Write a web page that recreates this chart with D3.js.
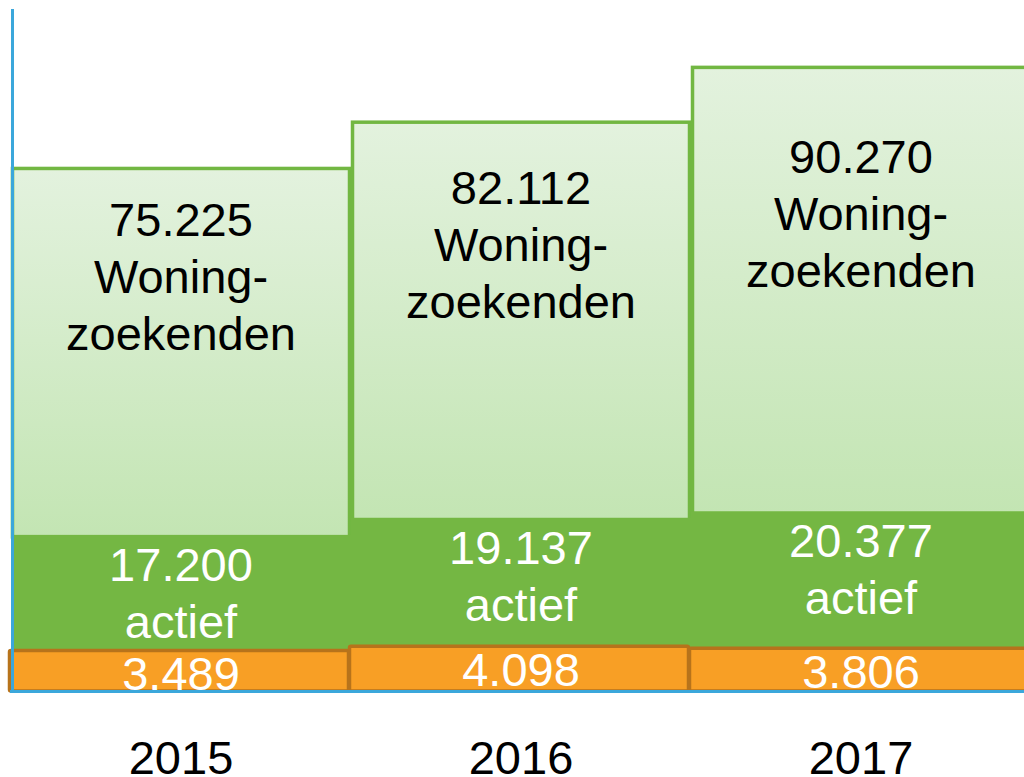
<!DOCTYPE html>
<html>
<head>
<meta charset="utf-8">
<script src="https://cdn.jsdelivr.net/npm/d3@7"></script>
<style>
    body { margin: 0; background: #fff; }
    svg { display: block; }
</style>
</head>
<body>
<div id="chart"></div>
<script>
// data
const years = ["2015", "2016", "2017"];
const seekers = [75225, 82112, 90270];   // woningzoekenden (total)
const active = [17200, 19137, 20377];    // actief
const housed = [3489, 4098, 3806];       // orange block

const width = 1024, height = 777;
const baseY = 690;

// number format with dutch thousands separator
const nl = d3.formatLocale({decimal: ",", thousands: ".", grouping: [3], currency: ["€", ""]});
const fmt = nl.format(",d");

const rows = years.map((y, i) => ({
    year: y,
    seekers: seekers[i],
    active: active[i],
    housed: housed[i],
    activeTop: housed[i] + active[i]
}));

const x = d3.scaleBand()
    .domain(years)
    .range([11, 1031])
    .padding(0);

// axis floor sits a little under zero, like the original slide
const y = d3.scaleLinear()
    .domain([-2400, 100000])
    .range([baseY, 2]);

const svg = d3.select("#chart").append("svg")
    .attr("width", width)
    .attr("height", height)
    .style("font-family", "'Liberation Sans', Arial, sans-serif");

svg.append("rect").attr("width", width).attr("height", height).attr("fill", "#fff");

const defs = svg.append("defs");
const grad = defs.append("linearGradient")
    .attr("id", "lightGreen")
    .attr("x1", 0).attr("y1", 0).attr("x2", 0).attr("y2", 1);
grad.append("stop").attr("offset", "0%").attr("stop-color", "#e3f2de");
grad.append("stop").attr("offset", "100%").attr("stop-color", "#c3e5b3");

defs.append("clipPath").attr("id", "plotClip")
    .append("rect").attr("x", 0).attr("y", 0).attr("width", width).attr("height", baseY + 2);

const bw = x.bandwidth();

// light boxes (woningzoekenden)
svg.append("g")
    .selectAll("rect")
    .data(rows)
    .join("rect")
    .attr("x", d => x(d.year) + 1.5)
    .attr("y", d => y(d.seekers))
    .attr("width", bw - 3)
    .attr("height", d => y(d.activeTop) - y(d.seekers) + 2)
    .attr("fill", "url(#lightGreen)")
    .attr("stroke", "#72b742")
    .attr("stroke-width", 3.5);

// dark green (actief)
svg.append("g")
    .selectAll("rect")
    .data(rows)
    .join("rect")
    .attr("x", d => x(d.year))
    .attr("y", d => y(d.activeTop))
    .attr("width", bw + 1)
    .attr("height", d => baseY - y(d.activeTop))
    .attr("fill", "#74b743");

// orange blocks
svg.append("g")
    .selectAll("rect")
    .data(rows)
    .join("rect")
    .attr("x", d => x(d.year) - 1.5)
    .attr("y", d => y(d.housed))
    .attr("width", bw - 1)
    .attr("height", d => baseY + 1 - y(d.housed))
    .attr("rx", 1.5)
    .attr("fill", "#f89f25")
    .attr("stroke", "#b7731b")
    .attr("stroke-width", 3.5);

const labels = svg.append("g")
    .attr("clip-path", "url(#plotClip)")
    .attr("text-anchor", "middle")
    .attr("font-size", 47);

// black labels in the light boxes
const black = labels.selectAll(".seek")
    .data(rows)
    .join("text")
    .attr("class", "seek")
    .attr("fill", "#000")
    .attr("x", d => x(d.year) + bw / 2)
    .attr("y", d => (y(d.seekers) + y(d.activeTop)) / 2 - 116);
black.append("tspan").text(d => fmt(d.seekers));
black.append("tspan").attr("x", d => x(d.year) + bw / 2).attr("dy", 57).text("Woning-");
black.append("tspan").attr("x", d => x(d.year) + bw / 2).attr("dy", 57).text("zoekenden");

// white labels for actief
const white = labels.selectAll(".act")
    .data(rows)
    .join("text")
    .attr("class", "act")
    .attr("fill", "#fff")
    .attr("x", d => x(d.year) + bw / 2)
    .attr("y", d => y(d.activeTop) + 46);
white.append("tspan").text(d => fmt(d.active));
white.append("tspan").attr("x", d => x(d.year) + bw / 2).attr("dy", 57).text("actief");

// white labels in the orange blocks
labels.selectAll(".hou")
    .data(rows)
    .join("text")
    .attr("class", "hou")
    .attr("fill", "#fff")
    .attr("x", d => x(d.year) + bw / 2)
    .attr("y", d => y(d.housed) + 40)
    .text(d => fmt(d.housed));

// axis lines
svg.append("line")
    .attr("x1", 12.5).attr("x2", 12.5)
    .attr("y1", 9).attr("y2", baseY + 3)
    .attr("stroke", "#3ba7db")
    .attr("stroke-width", 3);

svg.append("line")
    .attr("x1", 10).attr("x2", width)
    .attr("y1", baseY + 1.5).attr("y2", baseY + 1.5)
    .attr("stroke", "#3ba7db")
    .attr("stroke-width", 3);

// year labels
const xAxis = svg.append("g")
    .attr("transform", `translate(0,${774})`)
    .call(d3.axisBottom(x).tickSize(0).tickPadding(0));
xAxis.select(".domain").remove();
xAxis.selectAll("text")
    .attr("y", 0)
    .attr("dy", 0)
    .attr("fill", "#000")
    .attr("font-size", 47)
    .attr("font-family", "'Liberation Sans', Arial, sans-serif");
</script>
</body>
</html>
